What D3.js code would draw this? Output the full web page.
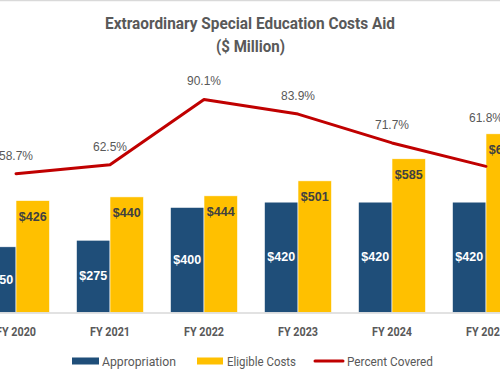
<!DOCTYPE html>
<html>
<head>
<meta charset="utf-8">
<script src="https://cdn.jsdelivr.net/npm/d3@7"></script>
<style>
  html, body { margin: 0; padding: 0; background: #fff; overflow: hidden; }
  svg { display: block; font-family: "Roboto", "Liberation Sans", sans-serif; }
</style>
</head>
<body>
<svg id="chart" width="500" height="383"></svg>
<script>
const categories = ["FY 2020", "FY 2021", "FY 2022", "FY 2023", "FY 2024", "FY 2025"];
const appropriation = [250, 275, 400, 420, 420, 420];
const eligibleCosts = [426, 440, 444, 501, 585, 680];
const percentCovered = [58.7, 62.5, 90.1, 83.9, 71.7, 61.8];
const seriesNames = ["Appropriation", "Eligible Costs", "Percent Covered"];
const titleLines = ["Extraordinary Special Education Costs Aid", "($ Million)"];

const colors = { appr: "#1F4E79", elig: "#FFC000", pct: "#C00000", text: "#595959", grid: "#D9D9D9" };

const svg = d3.select("#chart");
const W = 500, H = 383;
const baseY = 312.5, topY = 76;

// top border line
svg.append("line").attr("x1", 0).attr("x2", W).attr("y1", 0.5).attr("y2", 0.5)
  .attr("stroke", colors.grid).attr("stroke-width", 1.5);

// title
svg.append("text").attr("x", 250).attr("y", 23).attr("text-anchor", "middle")
  .attr("dominant-baseline", "central").attr("font-size", 16).attr("font-weight", "bold")
  .attr("fill", colors.text).attr("textLength", 290).attr("lengthAdjust", "spacingAndGlyphs")
  .text(titleLines[0]);
svg.append("text").attr("x", 250.5).attr("y", 46).attr("text-anchor", "middle")
  .attr("dominant-baseline", "central").attr("font-size", 16).attr("font-weight", "bold")
  .attr("fill", colors.text).attr("textLength", 69).attr("lengthAdjust", "spacingAndGlyphs")
  .text(titleLines[1]);

const x = d3.scaleBand().domain(categories).range([-31, 533]).paddingInner(0.287).paddingOuter(0.1435);
const xSub = d3.scaleBand().domain(["appr", "elig"]).range([0, x.bandwidth()]);
const y = d3.scaleLinear().domain([0, 900]).range([baseY, topY]);
const yPct = d3.scaleLinear().domain([0, 100]).range([baseY, topY]);

const data = categories.map((c, i) => ({ c, appr: appropriation[i], elig: eligibleCosts[i], pct: percentCovered[i] }));

// bars
const g = svg.append("g");
data.forEach(d => {
  const gx = x(d.c);
  g.append("rect").attr("x", gx + xSub("appr")).attr("y", y(d.appr))
    .attr("width", xSub.bandwidth()).attr("height", baseY - y(d.appr))
    .attr("fill", colors.appr).attr("stroke", "#ffffff").attr("stroke-width", 0.6);
  g.append("rect").attr("x", gx + xSub("elig")).attr("y", y(d.elig))
    .attr("width", xSub.bandwidth()).attr("height", baseY - y(d.elig))
    .attr("fill", colors.elig).attr("stroke", "#ffffff").attr("stroke-width", 0.6);
});

// baseline
svg.append("line").attr("x1", 0).attr("x2", W).attr("y1", baseY + 0.5).attr("y2", baseY + 0.5)
  .attr("stroke", colors.grid).attr("stroke-width", 1.5);

// bar labels
data.forEach(d => {
  const gx = x(d.c);
  svg.append("text").attr("x", gx + xSub("appr") + xSub.bandwidth() / 2)
    .attr("y", (y(d.appr) + baseY) / 2).attr("text-anchor", "middle").attr("dominant-baseline", "central")
    .attr("font-size", 12.5).attr("font-weight", "bold").attr("fill", "#ffffff")
    .attr("font-family", "Liberation Sans, Arial, sans-serif")
    .text("$" + d.appr);
  svg.append("text").attr("x", gx + xSub("elig") + xSub.bandwidth() / 2)
    .attr("y", y(d.elig) + 16).attr("text-anchor", "middle").attr("dominant-baseline", "central")
    .attr("font-size", 12.5).attr("font-weight", "bold").attr("fill", "#404040")
    .attr("font-family", "Liberation Sans, Arial, sans-serif")
    .text("$" + d.elig);
});

// line
const cx = d => x(d.c) + x.bandwidth() / 2;
const line = d3.line().x(cx).y(d => yPct(d.pct));
svg.append("path").datum(data).attr("d", line).attr("fill", "none")
  .attr("stroke", colors.pct).attr("stroke-width", 3).attr("stroke-linejoin", "round").attr("stroke-linecap", "round");

// percent labels (lifted above the eligible bar when they would collide)
data.forEach(d => {
  const ly = Math.min(yPct(d.pct) - 18, y(d.elig) - 16);
  svg.append("text").attr("x", cx(d)).attr("y", ly)
    .attr("text-anchor", "middle").attr("dominant-baseline", "central")
    .attr("font-size", 12).attr("fill", colors.text)
    .attr("font-family", "Liberation Sans, Arial, sans-serif")
    .text(d.pct.toFixed(1) + "%");
});

// x axis labels
const xAxis = d3.axisBottom(x).tickSize(0).tickPadding(0);
const ax = svg.append("g").attr("transform", `translate(0, ${baseY})`).call(xAxis);
ax.select(".domain").remove();
ax.selectAll("text").attr("y", 18.5).attr("dy", null).attr("dominant-baseline", "central")
  .attr("font-size", 13).attr("font-weight", "bold").attr("fill", colors.text)
  .attr("font-family", "Roboto, sans-serif")
  .attr("textLength", 40).attr("lengthAdjust", "spacingAndGlyphs");

// legend
const legY = 361;
const leg = svg.append("g");
leg.append("rect").attr("x", 72).attr("y", legY - 3.5).attr("width", 27).attr("height", 7).attr("fill", colors.appr);
leg.append("text").attr("x", 102).attr("y", legY).attr("dominant-baseline", "central")
  .attr("font-size", 13).attr("fill", colors.text).attr("textLength", 74).attr("lengthAdjust", "spacingAndGlyphs")
  .text(seriesNames[0]);
leg.append("rect").attr("x", 197).attr("y", legY - 3.5).attr("width", 26).attr("height", 7).attr("fill", colors.elig);
leg.append("text").attr("x", 227).attr("y", legY).attr("dominant-baseline", "central")
  .attr("font-size", 13).attr("fill", colors.text).attr("textLength", 69).attr("lengthAdjust", "spacingAndGlyphs")
  .text(seriesNames[1]);
leg.append("line").attr("x1", 315).attr("x2", 343).attr("y1", legY).attr("y2", legY)
  .attr("stroke", colors.pct).attr("stroke-width", 3).attr("stroke-linecap", "round");
leg.append("text").attr("x", 347).attr("y", legY).attr("dominant-baseline", "central")
  .attr("font-size", 13).attr("fill", colors.text).attr("textLength", 86).attr("lengthAdjust", "spacingAndGlyphs")
  .text(seriesNames[2]);
</script>
</body>
</html>
